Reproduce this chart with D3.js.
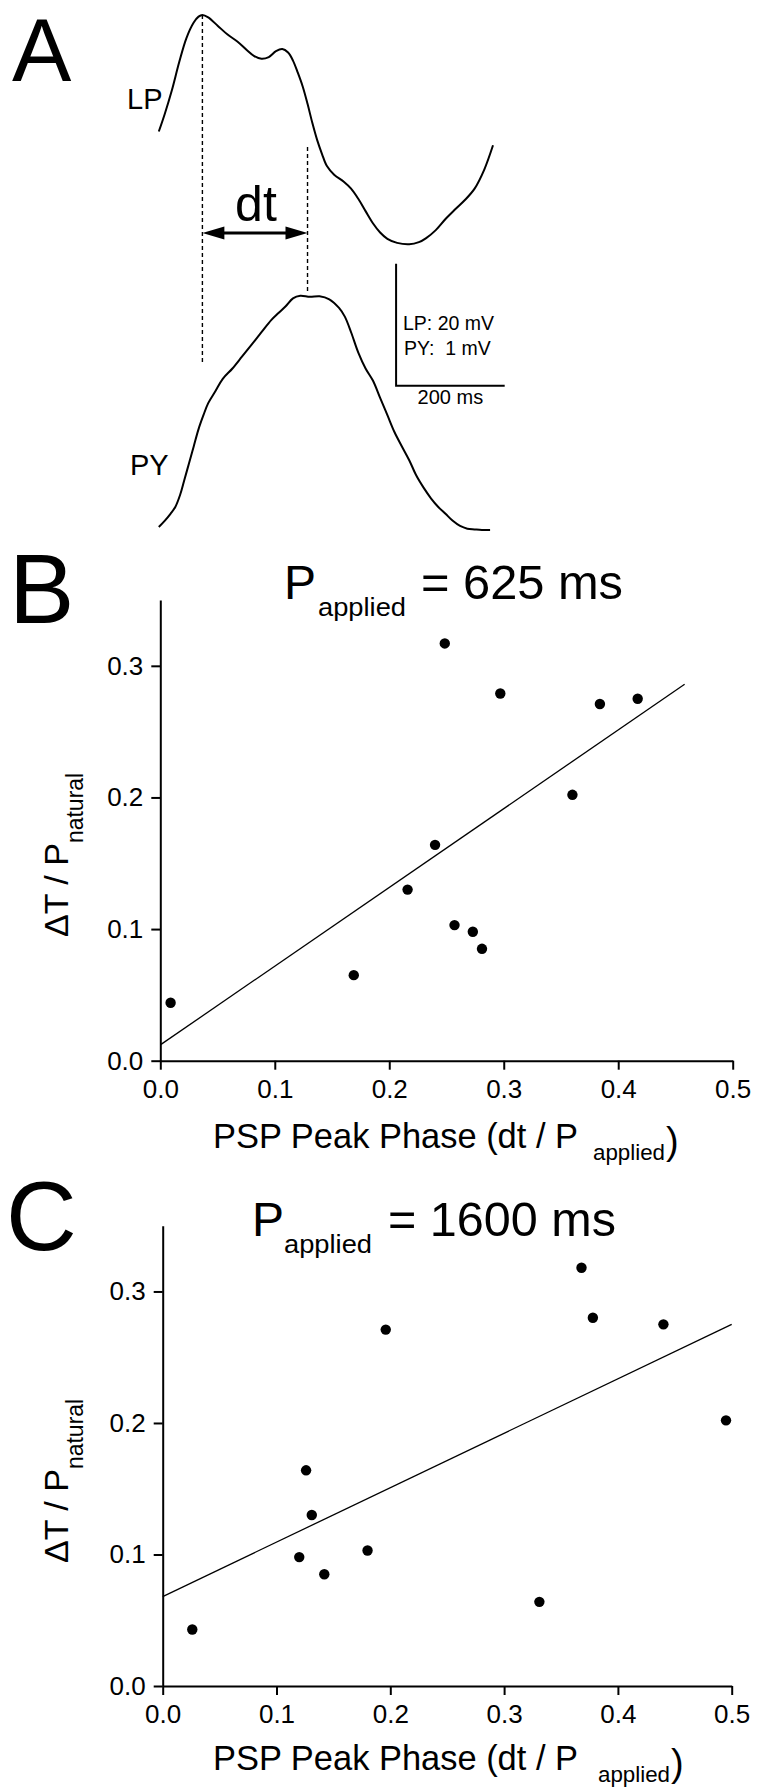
<!DOCTYPE html>
<html><head><meta charset="utf-8">
<script src="https://cdn.jsdelivr.net/npm/d3@7"></script>
<style>
body{margin:0;background:#fff}
svg{display:block;background:#fff}
text{font-family:"Liberation Sans",Arial,Helvetica,sans-serif;fill:#000}
</style>
</head><body>
<svg id="fig" width="757" height="1788"></svg>
<script>
// ---------- Panel A : traces (time in ms, voltage in mV) ----------
const lpTime = [0,10.8,24.2,37.5,50.9,64.3,73.2,80.3,91,108.8,126.7,144.6,162.4,175.8,189.1,202.6,215.8,227.4,238.1,247.1,256,265,273.9,282.7,291.7,300.6,309.6,322.9,340.7,354.1,367.6,380.8,394.3,407.6,421,438.9,461.2,479,492.4,510.1,528,545.9,563.7,581.6,599.4,615.5];
const lpVolt = [-41.56,-38.72,-34.75,-30.21,-26.24,-23.69,-22.72,-22.44,-22.84,-24.25,-25.67,-26.8,-28.23,-29.2,-29.64,-29.36,-28.4,-28.05,-28.62,-29.93,-31.92,-34.18,-37.02,-40.13,-42.97,-45.25,-47.23,-48.64,-49.79,-50.92,-52.62,-54.61,-56.59,-58.11,-59.15,-59.82,-60.05,-59.7,-59.03,-57.72,-55.9,-54.31,-52.79,-50.92,-47.8,-43.82];
const pyTime = [0,10.8,21.5,30.4,39.3,46.5,55.4,64.3,73.2,82.2,91,104.4,117.8,135.6,153.5,171.3,189.1,207,220.4,233.7,247.1,260.5,278.3,296.2,314,331.9,342.6,354.1,367.6,380.8,394.3,407.6,421,434.4,447.7,461.2,474.5,487.9,501.2,514.7,528,541.4,554.8,568.2,581.6,595,610.1];
const pyVolt = [0.025,0.075,0.133,0.189,0.289,0.402,0.543,0.685,0.827,0.941,1.04,1.139,1.239,1.324,1.423,1.522,1.621,1.72,1.778,1.834,1.899,1.92,1.911,1.916,1.891,1.82,1.749,1.621,1.452,1.324,1.225,1.083,0.941,0.799,0.685,0.572,0.444,0.345,0.26,0.189,0.133,0.075,0.033,0.011,0.005,0,0];
const dtMarks = [80.3, 273.9];          // LP peak time, PY peak time (ms)
const scaleBarLabels = ["LP: 20 mV", "PY:  1 mV", "200 ms"];

// ---------- Panel B : P_applied = 625 ms ----------
const phaseB = [0.009,0.169,0.216,0.240,0.2485,0.257,0.273,0.281,0.297,0.360,0.384,0.417];
const shiftB = [0.044,0.065,0.130,0.164,0.317,0.103,0.098,0.085,0.279,0.202,0.271,0.275];
const fitBx = [0, 0.458];
const fitBy = [0.012, 0.286];

// ---------- Panel C : P_applied = 1600 ms ----------
const phaseC = [0.026,0.120,0.126,0.131,0.142,0.180,0.196,0.331,0.368,0.378,0.440,0.495];
const shiftC = [0.043,0.098,0.164,0.130,0.085,0.103,0.271,0.064,0.318,0.280,0.275,0.202];
const fitCx = [0, 0.5];
const fitCy = [0.068, 0.275];

const xTicks = [0, 0.1, 0.2, 0.3, 0.4, 0.5];
const yTicks = [0, 0.1, 0.2, 0.3];

const svg = d3.select("#fig");
const FONT = '"Liberation Sans",Arial,Helvetica,sans-serif';

// ================= Panel A =================
const xA = d3.scaleLinear().domain([0, 200]).range([158.8, 267.4]);
const yLP = d3.scaleLinear().domain([-60, -40]).range([244, 122]);
const yPY = d3.scaleLinear().domain([0, 1]).range([530, 408]);
const curve = d3.line().curve(d3.curveCatmullRom.alpha(0.5));

const gA = svg.append("g");
gA.append("text").attr("x", 12).attr("y", 81).attr("font-size", 89).text("A");
gA.append("text").attr("x", 127).attr("y", 109).attr("font-size", 29).text("LP");
gA.append("text").attr("x", 130).attr("y", 475).attr("font-size", 29).text("PY");

gA.append("path")
  .attr("d", curve(lpTime.map((t, i) => [xA(t), yLP(lpVolt[i])])))
  .attr("fill", "none").attr("stroke", "#000").attr("stroke-width", 2);
gA.append("path")
  .attr("d", curve(pyTime.map((t, i) => [xA(t), yPY(pyVolt[i])])))
  .attr("fill", "none").attr("stroke", "#000").attr("stroke-width", 2);

// dashed guides
const lpPeak = d3.max(lpVolt);
gA.append("line").attr("x1", xA(dtMarks[0])).attr("x2", xA(dtMarks[0]))
  .attr("y1", yLP(lpPeak)).attr("y2", yPY(1.37))
  .attr("stroke", "#000").attr("stroke-width", 1.4).attr("stroke-dasharray", "4,3");
gA.append("line").attr("x1", xA(dtMarks[1])).attr("x2", xA(dtMarks[1]))
  .attr("y1", yLP(-44.1)).attr("y2", yPY(1.96))
  .attr("stroke", "#000").attr("stroke-width", 1.4).attr("stroke-dasharray", "4,3");

// dt arrow
const ay = yLP(-58.2), ax1 = xA(dtMarks[0]), ax2 = xA(dtMarks[1]);
gA.append("line").attr("x1", ax1 + 15).attr("x2", ax2 - 15).attr("y1", ay).attr("y2", ay)
  .attr("stroke", "#000").attr("stroke-width", 3);
gA.append("path").attr("d", `M${ax1},${ay}L${ax1 + 22},${ay - 6.5}L${ax1 + 22},${ay + 6.5}Z`).attr("fill", "#000");
gA.append("path").attr("d", `M${ax2},${ay}L${ax2 - 22},${ay - 6.5}L${ax2 - 22},${ay + 6.5}Z`).attr("fill", "#000");
gA.append("text").attr("x", (ax1 + ax2) / 2 + 1).attr("y", 221).attr("text-anchor", "middle")
  .attr("font-size", 50).text("dt");

// scale bar: 200 ms x 20 mV
const sbT = 437, sbV = -83.25;
gA.append("path")
  .attr("d", `M${xA(sbT)},${yLP(sbV + 20)}V${yLP(sbV)}H${xA(sbT + 200)}`)
  .attr("fill", "none").attr("stroke", "#000").attr("stroke-width", 2);
gA.append("text").attr("x", 403).attr("y", 330).attr("font-size", 19.5).text(scaleBarLabels[0]);
gA.append("text").attr("x", 404).attr("y", 355).attr("font-size", 19.5).attr("xml:space", "preserve").style("white-space", "pre").text(scaleBarLabels[1]);
gA.append("text").attr("x", (xA(sbT) + xA(sbT + 200)) / 2).attr("y", 404).attr("text-anchor", "middle")
  .attr("font-size", 20).text(scaleBarLabels[2]);

// ================= Scatter panels =================
function scatterPanel(cfg) {
  const g = svg.append("g");
  const x = d3.scaleLinear().domain([0, 0.5]).range(cfg.xr);
  const y = d3.scaleLinear().domain([0, 0.35]).range(cfg.yr);

  const ax = g.append("g").attr("transform", `translate(0,${cfg.yr[0]})`)
    .call(d3.axisBottom(x).tickValues(xTicks).tickFormat(d3.format(".1f"))
      .tickSize(9).tickSizeOuter(0).tickPadding(10));
  const ay = g.append("g").attr("transform", `translate(${cfg.xr[0]},0)`)
    .call(d3.axisLeft(y).tickValues(yTicks).tickFormat(d3.format(".1f"))
      .tickSize(9).tickSizeOuter(0).tickPadding(8));
  [ax, ay].forEach(a => {
    a.attr("font-family", FONT).attr("font-size", 26);
    a.selectAll("path,line").attr("stroke", "#000").attr("stroke-width", 2);
    a.selectAll("text").attr("fill", "#000");
  });

  // regression line
  g.append("line")
    .attr("x1", x(cfg.fx[0])).attr("y1", y(cfg.fy[0]))
    .attr("x2", x(cfg.fx[1])).attr("y2", y(cfg.fy[1]))
    .attr("stroke", "#000").attr("stroke-width", 1.3);

  g.selectAll("circle.pt").data(cfg.px.map((v, i) => [v, cfg.py[i]])).enter()
    .append("circle").attr("class", "pt")
    .attr("cx", d => x(d[0])).attr("cy", d => y(d[1])).attr("r", 5.2).attr("fill", "#000");

  // panel letter
  g.append("text").attr("x", cfg.letter[1]).attr("y", cfg.letter[2]).attr("font-size", 98).text(cfg.letter[0]);

  // title
  g.append("text").attr("x", cfg.title[0]).attr("y", cfg.title[1]).attr("font-size", 48).text("P");
  g.append("text").attr("x", cfg.title[2]).attr("y", cfg.title[1] + 17).attr("font-size", 26)
    .attr("textLength", 88).attr("lengthAdjust", "spacingAndGlyphs").text("applied");
  g.append("text").attr("x", cfg.title[3]).attr("y", cfg.title[1]).attr("font-size", 48)
    .attr("textLength", cfg.title[5]).attr("lengthAdjust", "spacingAndGlyphs").text(cfg.title[4]);

  // x label
  g.append("text").attr("x", 213).attr("y", cfg.xlab).attr("font-size", 35)
    .attr("textLength", 365).attr("lengthAdjust", "spacingAndGlyphs").text("PSP Peak Phase (dt / P");
  g.append("text").attr("x", cfg.xsub).attr("y", cfg.xlab + 12).attr("font-size", 22)
    .attr("textLength", 72).attr("lengthAdjust", "spacingAndGlyphs").text("applied");
  g.append("text").attr("x", cfg.xsub + 73).attr("y", cfg.xlab + 6).attr("font-size", 38).text(")");

  // y label
  const yl = g.append("text").attr("transform", `translate(68,${cfg.ylab}) rotate(-90)`).attr("font-size", 34);
  yl.append("tspan").text("\u0394T / P");
  yl.append("tspan").attr("dy", 15).attr("font-size", 23).text("natural");
}

scatterPanel({
  xr: [160.3, 732.7], yr: [1060.7, 600],
  px: phaseB, py: shiftB, fx: fitBx, fy: fitBy,
  letter: ["B", 9, 623],
  title: [284, 599, 318, 421, "= 625 ms", 202],
  xlab: 1148, xsub: 593, ylab: 937
});
scatterPanel({
  xr: [162.7, 731.7], yr: [1686, 1225.7],
  px: phaseC, py: shiftC, fx: fitCx, fy: fitCy,
  letter: ["C", 6, 1250],
  title: [252, 1236, 284, 388, "= 1600 ms", 228],
  xlab: 1770, xsub: 598, ylab: 1563
});
</script>
</body></html>
